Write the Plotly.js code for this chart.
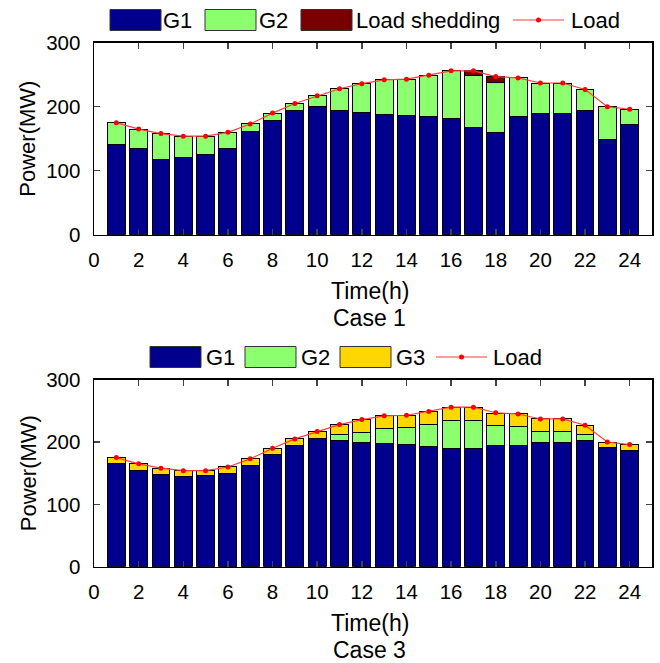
<!DOCTYPE html>
<html>
<head>
<meta charset="utf-8">
<script src="https://cdn.plot.ly/plotly-3.0.1.min.js"></script>
<style>html,body{margin:0;padding:0;background:#fff;} #chart{width:660px;height:663px;}</style>
</head>
<body>
<div id="chart"></div>
<script>
// ---- data ----
var hours = [1,2,3,4,5,6,7,8,9,10,11,12,13,14,15,16,17,18,19,20,21,22,23,24];
var load  = [175,165,158,154,154,160,173,190,205,217,228,236,242,243,249,256,256,247,245,237,237,227,200,196];

// Case 1
var c1_G1   = [141,134,118,120,126,135,162,179,194,200,194,191,188,187,184,181,168,159,185,190,190,194,149,172];
var c1_G2   = [34,31,40,34,28,25,11,11,11,17,34,45,54,56,65,75,80,79,60,47,47,33,51,24];
var c1_Shed = [0,0,0,0,0,0,0,0,0,0,0,0,0,0,0,0,8,9,0,0,0,0,0,0];

// Case 3
var c3_G1 = [165,155,148,145,146,150,163,180,195,206,202,200,197,196,193,190,190,194,195,200,200,202,191,187];
var c3_G2 = [0,0,0,0,0,0,0,0,0,0,10,16,25,27,35,45,45,32,30,17,17,10,0,0];
var c3_G3 = [10,10,10,9,8,10,10,10,10,11,16,20,20,20,21,21,21,20,20,20,20,15,9,9];

var xTicks = [0,2,4,6,8,10,12,14,16,18,20,22,24];
var yTicks = [0,100,200,300];
var legend1 = ["G1","G2","Load shedding","Load"];
var legend3 = ["G1","G2","G3","Load"];
var caseLabels = ["Case 1","Case 3"];
var xLabel = "Time(h)";
var yLabel = "Power(MW)";

// ---- styles ----
var colG1 = "#00008C", colG2 = "#8CFF6E", colShed = "#780000", colG3 = "#FFD700", colLoad = "#FF0000";
var FONT = "Liberation Sans, Arial, sans-serif";
var W = 660, H = 663;
function px(x){return x/W;}
function py(y){return 1 - y/H;}

function bar(y, color, xa, ya){
  return {type:"bar", x:hours, y:y, width:0.8, xaxis:xa, yaxis:ya, showlegend:false,
    marker:{color:color, line:{color:"#000", width:1}}, hoverinfo:"y"};
}
function loadTrace(xa, ya){
  return {type:"scatter", mode:"lines+markers", x:hours, y:load, xaxis:xa, yaxis:ya, showlegend:false,
    line:{color:"#FF3B3B", width:1.2}, marker:{color:colLoad, size:5}};
}

var data = [
  bar(c1_G1, colG1, "x", "y"), bar(c1_G2, colG2, "x", "y"), bar(c1_Shed, colShed, "x", "y"), loadTrace("x","y"),
  bar(c3_G1, colG1, "x2", "y2"), bar(c3_G2, colG2, "x2", "y2"), bar(c3_G3, colG3, "x2", "y2"), loadTrace("x2","y2")
];

var xDom = [94/W, 652/W];
var topDom = [py(234.7), py(42.7)];
var botDom = [py(566.7), py(379.7)];

function xAxis(dom, anchor){
  return {domain:dom, anchor:anchor, range:[0,25], tickvals:xTicks, ticks:"inside", ticklen:6, tickwidth:1.5,
    showline:true, linewidth:1.5, linecolor:"#000", mirror:"ticks", showgrid:false, zeroline:false,
    tickfont:{family:FONT, size:20.5, color:"#000"}, ticklabelstandoff:6, fixedrange:true};
}
function yAxis(dom, anchor){
  return {domain:dom, anchor:anchor, range:[0,300], tickvals:yTicks, ticks:"inside", ticklen:6, tickwidth:1.5,
    showline:true, linewidth:1.5, linecolor:"#000", mirror:"ticks", showgrid:false, zeroline:false,
    tickfont:{family:FONT, size:20.5, color:"#000"}, ticklabelstandoff:8, fixedrange:true};
}

var shapes = [], annotations = [];
function addLegend(labels, colors, patchX, textX, lineX, loadTextX, yc){
  for (var i=0;i<3;i++){
    shapes.push({type:"rect", xref:"paper", yref:"paper", x0:px(patchX[i]), x1:px(patchX[i]+51),
      y0:py(yc+10.5), y1:py(yc-10.5), fillcolor:colors[i], line:{color:"#333", width:1}});
    annotations.push({xref:"paper", yref:"paper", x:px(textX[i]), y:py(yc), xanchor:"left", yanchor:"middle",
      text:labels[i], showarrow:false, font:{family:FONT, size:22, color:"#000"}});
  }
  shapes.push({type:"line", xref:"paper", yref:"paper", x0:px(lineX), x1:px(lineX+51), y0:py(yc), y1:py(yc),
    line:{color:"#FF3B3B", width:1.2}});
  shapes.push({type:"circle", xref:"paper", yref:"paper", x0:px(lineX+25.5-2.5), x1:px(lineX+25.5+2.5),
    y0:py(yc+2.5), y1:py(yc-2.5), fillcolor:colLoad, line:{color:colLoad, width:0}});
  annotations.push({xref:"paper", yref:"paper", x:px(loadTextX), y:py(yc), xanchor:"left", yanchor:"middle",
    text:labels[3], showarrow:false, font:{family:FONT, size:22, color:"#000"}});
}
addLegend(legend1, [colG1,colG2,colShed], [110,205,301], [161,257,354], 513, 569, 20);
addLegend(legend3, [colG1,colG2,colG3], [150,245,340], [204,299,394], 436, 491, 357);

function addText(t, x, y, ang, sz){
  annotations.push({xref:"paper", yref:"paper", x:px(x), y:py(y), xanchor:"center", yanchor:"middle",
    text:t, showarrow:false, textangle:ang||0, font:{family:FONT, size:sz||23, color:"#000"}});
}
addText(yLabel, 28, 138.7, -90, 22);
addText(yLabel, 28, 473.2, -90, 22);
addText(xLabel, 370, 291);
addText(caseLabels[0], 370, 318);
addText(xLabel, 370, 623);
addText(caseLabels[1], 370, 650);

var layout = {
  width:W, height:H, margin:{l:0,r:0,t:0,b:0}, paper_bgcolor:"#fff", plot_bgcolor:"#fff",
  barmode:"stack", showlegend:false,
  xaxis:xAxis(xDom,"y"), yaxis:yAxis(topDom,"x"),
  xaxis2:xAxis(xDom,"y2"), yaxis2:yAxis(botDom,"x2"),
  shapes:shapes, annotations:annotations, font:{family:FONT}
};
Plotly.newPlot("chart", data, layout, {staticPlot:true, displayModeBar:false});
</script>
</body>
</html>
